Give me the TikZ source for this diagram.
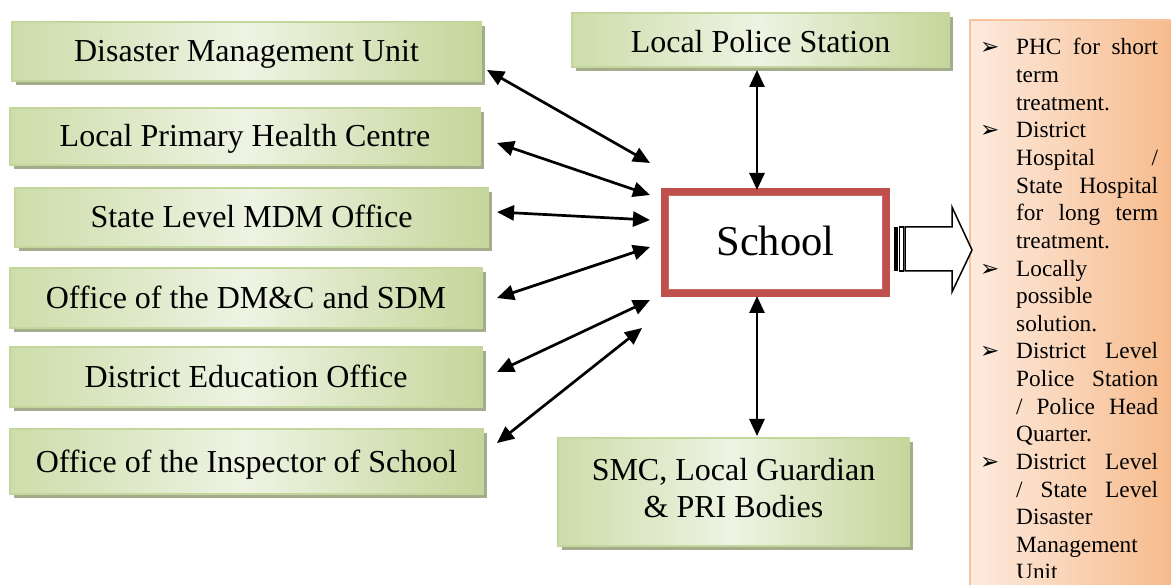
\documentclass[tikz,border=0pt]{standalone}
\usepackage{fontspec}
\setmainfont{Liberation Serif}
\newfontfamily\dvsans{DejaVu Sans}
\usetikzlibrary{arrows.meta,shadows,calc}
\definecolor{gL}{HTML}{CDDDAA}
\definecolor{gM}{HTML}{EEF3E3}
\definecolor{gR}{HTML}{C5D69A}
\definecolor{gB}{HTML}{C3D69B}
\definecolor{gS}{HTML}{A4AC8C}
\definecolor{sred}{HTML}{C0504D}
\definecolor{oL}{HTML}{FDEBDF}
\definecolor{oR}{HTML}{F6B989}
\definecolor{oB}{HTML}{F7C39E}
\tikzset{
 gbox/.style={draw=gB, line width=1.2pt, left color=gL, right color=gR, middle color=gM,
   inner sep=0pt, align=center, font=\fontsize{32}{37}\selectfont,
   drop shadow={shadow xshift=4pt, shadow yshift=-4pt, fill=gS, opacity=1}},
 oneline/.style={text height=25pt, text depth=4pt},
 link/.style={line width=2.7pt, {Triangle[length=17pt,width=15pt]}-{Triangle[length=17pt,width=15pt]}},
 rtxt/.style={anchor=base west, inner sep=0pt, font=\fontsize{23.3}{27.6}\selectfont},
 bul/.style={anchor=base west, inner sep=0pt, font=\dvsans\fontsize{23}{26}\selectfont},
}
\newcommand\rlj[3]{\node[rtxt] (#1) at (1016,{55+27.63*(#2-1)}) {\makebox[142pt][s]{#3}};}
\newcommand\rln[3]{\node[rtxt] (#1) at (1016,{55+27.63*(#2-1)}) {#3};}
\newcommand\rlb[2]{\node[bul] (#1) at (980,{55+27.63*(#2-1)}) {➢};}
\begin{document}
\begin{tikzpicture}[x=1pt,y=-1pt]
\useasboundingbox (0,0) rectangle (1171,585);
% right panel
\path[draw=oB, line width=1.5pt, left color=oL, right color=oR] (970,20) rectangle (1180,595);
\begin{scope}
\clip (960,0) rectangle (1171,577);
\rlb{b1}{1}\rlj{t1}{1}{PHC for short}
\rln{t2}{2}{term}
\rln{t3}{3}{treatment.}
\rlb{b4}{4}\rln{t4}{4}{District}
\rlj{t5}{5}{Hospital /}
\rlj{t6}{6}{State Hospital}
\rlj{t7}{7}{for long term}
\rln{t8}{8}{treatment.}
\rlb{b9}{9}\rln{t9}{9}{Locally}
\rln{t10}{10}{possible}
\rln{t11}{11}{solution.}
\rlb{b12}{12}\rlj{t12}{12}{District Level}
\rlj{t13}{13}{Police Station}
\rlj{t14}{14}{/ Police Head}
\rln{t15}{15}{Quarter.}
\rlb{b16}{16}\rlj{t16}{16}{District Level}
\rlj{t17}{17}{/ State Level}
\rln{t18}{18}{Disaster}
\rln{t19}{19}{Management}
\rln{t20}{20}{Unit}
\end{scope}
% green boxes
\node[gbox, oneline, minimum width=469pt, minimum height=59pt] (dmu) at (246.5,51.5) {Disaster Management Unit};
\node[gbox, oneline, minimum width=470pt, minimum height=57pt] (phc) at (245,136.5) {Local Primary Health Centre};
\node[gbox, oneline, minimum width=473pt, minimum height=59pt] (mdm) at (251.5,217.5) {State Level MDM Office};
\node[gbox, oneline, minimum width=472pt, minimum height=60pt] (dmc) at (246,298) {Office of the DM\&C and SDM};
\node[gbox, oneline, minimum width=472pt, minimum height=60pt] (deo) at (246,377) {District Education Office};
\node[gbox, oneline, minimum width=473pt, minimum height=65pt] (ins) at (246.5,461.5) {Office of the Inspector of School};
\node[gbox, text height=27pt, text depth=2pt, minimum width=377pt, minimum height=54pt] (pol) at (760.5,40) {Local Police Station};
\node[gbox, minimum width=351pt, minimum height=108pt] (smc) at (733.5,492) {\raisebox{4pt}{\begin{tabular}{@{}c@{}}SMC, Local Guardian\\\& PRI Bodies\end{tabular}}};
% school
\node[draw=sred, line width=7pt, fill=white, minimum width=222pt, minimum height=102pt, inner sep=0pt,
      font=\fontsize{42.5}{48}\selectfont] (school) at (775.5,242.5) {\raisebox{4pt}{School}};
\draw[sred!85, line width=1.6pt] ([shift={(7.5,7.5)}]school.north west) rectangle ([shift={(-7.5,-7.5)}]school.south east);
% connectors
\coordinate (a1s) at (487,70);  \coordinate (a1e) at (650,163);
\coordinate (a2s) at (497,143); \coordinate (a2e) at (650,195);
\coordinate (a3s) at (497,212); \coordinate (a3e) at (650,220);
\coordinate (a4s) at (497,298); \coordinate (a4e) at (650,247);
\coordinate (a5s) at (497,372); \coordinate (a5e) at (650,300);
\coordinate (a6s) at (497,443); \coordinate (a6e) at (642,328);
\coordinate (vp1) at (757,70);  \coordinate (vp2) at (757,190);
\coordinate (vs1) at (757,296); \coordinate (vs2) at (757,436);
\draw[link] (a1s) -- (a1e);
\draw[link] (a2s) -- (a2e);
\draw[link] (a3s) -- (a3e);
\draw[link] (a4s) -- (a4e);
\draw[link] (a5s) -- (a5e);
\draw[link] (a6s) -- (a6e);
\draw[link] (vp1) -- (vp2);
\draw[link] (vs1) -- (vs2);
% block arrow
\fill[black] (894,227) rectangle (897.5,271);
\draw[line width=1.2pt, fill=white] (899.5,227) rectangle (903.5,271);
\draw[line width=1.5pt, fill=white, line join=miter] (905,227) -- (952,227) -- (952,207) -- (972,250) -- (952,292) -- (952,271) -- (905,271) -- cycle;
\end{tikzpicture}
\end{document}
